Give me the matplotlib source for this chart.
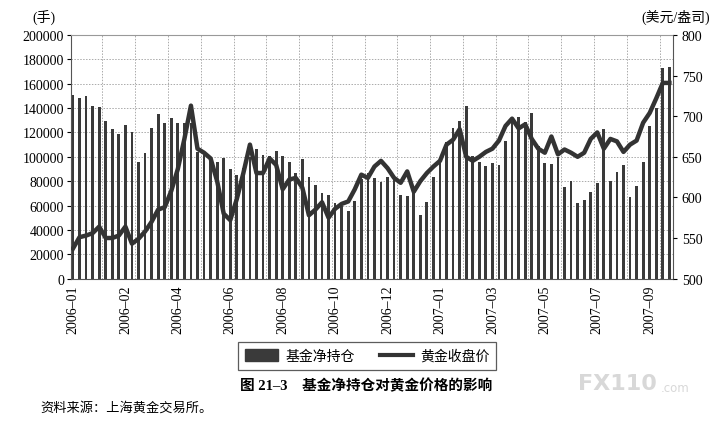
import numpy as np
import matplotlib
matplotlib.use('Agg')
import matplotlib.pyplot as plt
from matplotlib.patches import Patch
from matplotlib.lines import Line2D

plt.rcParams['font.family'] = ['Liberation Serif', 'Noto Sans CJK SC']

# weekly fund net position (lots)
net_position = [151, 148, 150, 142, 140.5, 129, 122.5, 118.5, 126.5, 120,
                96, 103, 124, 135, 127.5, 131.5, 127.5, 127.5, 128, 104,
                101.5, 99.5, 95.5, 99, 90, 85, 90.5, 100, 106, 101.5,
                101, 105, 100.5, 95.5, 87, 98, 83.5, 77, 70.5, 69,
                62, 60, 55.5, 64, 81.5, 87, 83, 79.5, 83.5, 82.5,
                69, 68, 70, 52, 62.5, 83.5, 98, 112, 124, 129.5,
                141.5, 100.5, 96, 92.2, 95.3, 93.6, 113, 131, 132.7, 128.2,
                136, 109, 95.3, 94.4, 100, 75, 79.8, 62, 64.6, 71,
                78.4, 123, 79.8, 87.5, 93, 67.4, 76.2, 95.5, 125.2, 140.3,
                172.5, 173.9]
net_position = [v * 1000 for v in net_position]

# gold closing price (USD/oz)
gold_close = [537, 551, 553, 556, 564, 550, 550, 553, 564, 543,
              549, 558, 570, 585, 588, 608, 635, 672, 713, 660,
              655, 648, 620, 580, 572, 598, 630, 665, 630, 630,
              648, 640, 610, 622, 624, 612, 578, 585, 594, 575,
              586, 592, 595, 610, 628, 624, 638, 645, 636, 624,
              618, 632, 607, 620, 630, 638, 645, 665, 671, 684,
              650, 645, 650, 656, 660, 670, 688, 697, 685, 690,
              672, 660, 655, 675, 653, 659, 655, 650, 655, 672,
              680, 660, 672, 669, 656, 665, 670, 692, 704, 722,
              741, 741]

tick_labels = ['2006–01', '2006–02', '2006–04', '2006–06', '2006–08', '2006–10',
               '2006–12', '2007–01', '2007–03', '2007–05', '2007–07', '2007–09']

W, H = 728, 435
fig = plt.figure(figsize=(W / 100, H / 100), dpi=100)
ax = fig.add_axes([71 / W, 1 - 279.6 / H, (673.3 - 71) / W, (279.6 - 36) / H])

x = np.arange(len(net_position))
ax.bar(x, net_position, width=0.42, color='#3a3a3a', zorder=2)
ax.set_xlim(-0.3, len(x) - 0.4)
ax.set_ylim(0, 200000)
ax.set_yticks(np.arange(0, 200001, 20000))
ax.set_xticks(np.arange(0, len(x), 8))
ax.set_xticklabels(tick_labels, rotation=90, fontsize=10)
ax.set_xticks(np.arange(4.5, len(x), 5), minor=True)
ax.tick_params(axis='x', which='both', length=0, pad=4)
ax.tick_params(axis='y', length=3, labelsize=10, pad=2)
ax.grid(axis='y', which='major', ls=(0, (1.5, 1.5)), color='#aaaaaa', lw=0.7, zorder=0)
ax.grid(axis='x', which='minor', ls=(0, (1.5, 1.5)), color='#aaaaaa', lw=0.7, zorder=0)
ax.set_axisbelow(True)
for s in ax.spines.values():
    s.set_color('#555555')
    s.set_linewidth(0.8)
ax.spines['top'].set_color('#999999')

ax2 = ax.twinx()
ax2.plot(x, gold_close, color='#333333', lw=3.2, solid_joinstyle='round')
ax2.set_ylim(500, 800)
ax2.set_yticks(np.arange(500, 801, 50))
ax2.tick_params(axis='y', length=3, labelsize=10, pad=3)
for s in ax2.spines.values():
    s.set_visible(False)

fig.text(32 / W, 1 - 17 / H, '(手)', fontsize=10, va='center', ha='left')
fig.text(676 / W, 1 - 17 / H, '(美元/盎司)', fontsize=10, va='center', ha='center')

handles = [Patch(facecolor='#3a3a3a', edgecolor='#3a3a3a'),
           Line2D([0], [0], color='#333333', lw=3)]
leg = fig.legend(handles, ['基金净持仓', '黄金收盘价'], loc='center',
                 bbox_to_anchor=(367 / W, 1 - 357 / H), ncol=2, fontsize=10,
                 frameon=True, fancybox=False, edgecolor='#333333',
                 handlelength=2.4, handleheight=1.0, columnspacing=1.8,
                 handletextpad=0.5, borderpad=0.5)
leg.get_frame().set_linewidth(0.9)

fig.text(366 / W, 1 - 386 / H, '图 21–3　基金净持仓对黄金价格的影响',
         fontsize=10.5, weight='bold', ha='center', va='center')
fig.text(40 / W, 1 - 408 / H, '资料来源：上海黄金交易所。', fontsize=9.5,
         ha='left', va='center')
fig.text(657 / W, 1 - 384 / H, 'FX110', fontsize=16, color='#d8d8d8',
         ha='right', va='center', weight='bold', family='DejaVu Sans')
fig.text(661 / W, 1 - 388 / H, '.com', fontsize=8.5, color='#d8d8d8',
         ha='left', va='center', family='DejaVu Sans')

fig.savefig('out.png', dpi=100)
